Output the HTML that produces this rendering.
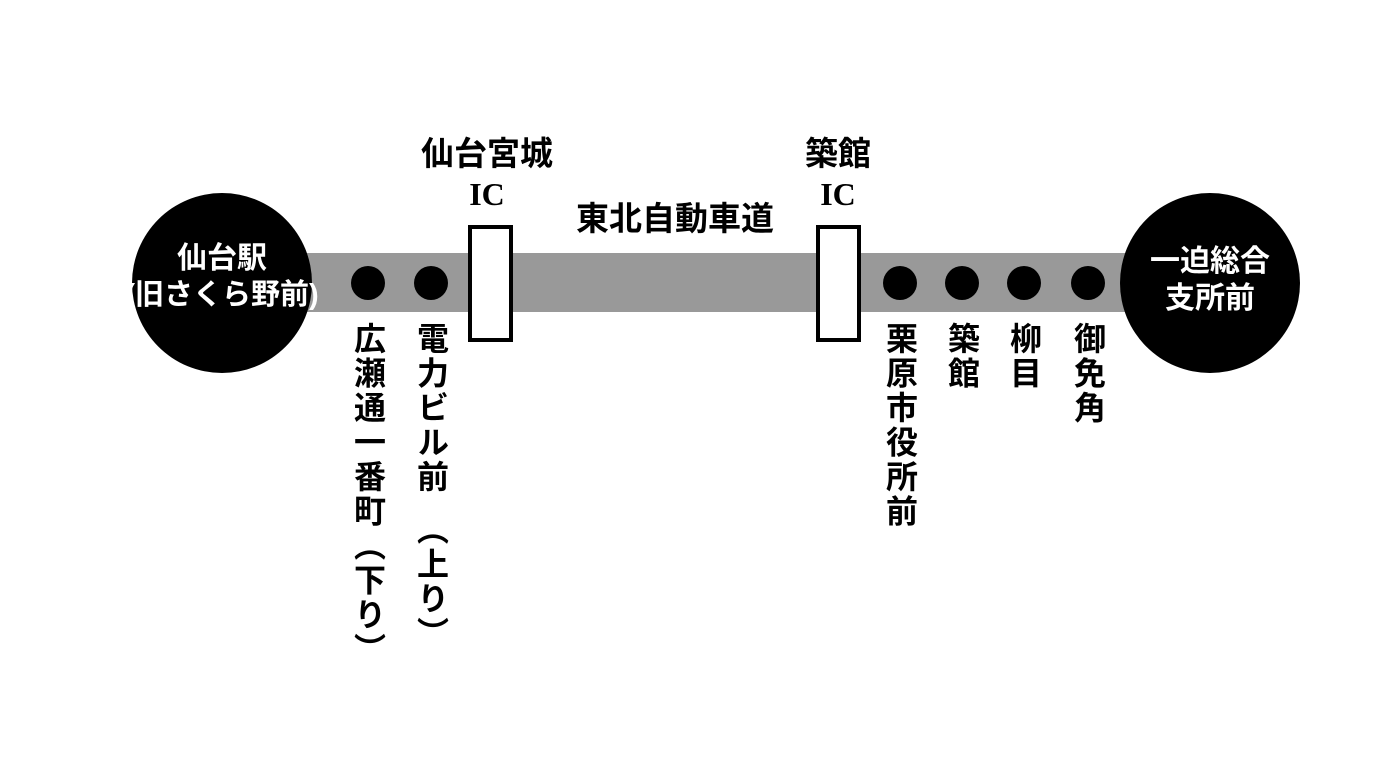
<!DOCTYPE html>
<html><head><meta charset="utf-8"><style>
body{margin:0;width:1376px;height:768px;background:#fff;position:relative;overflow:hidden;font-family:"Liberation Sans","Noto Sans CJK JP",sans-serif;font-weight:bold;color:#000}
.a{position:absolute}
.bar{left:300px;top:253px;width:840px;height:59px;background:#999}
.big{width:180px;height:180px;border-radius:50%;background:#000;color:#fff;top:193px;display:flex;flex-direction:column;align-items:center;justify-content:center;font-size:30px;line-height:37px;text-align:center;overflow:visible;box-sizing:border-box}
.dot{width:34px;height:34px;border-radius:50%;background:#000;top:266px}
.ic{width:37px;height:109px;border:4px solid #000;background:#fff;top:225px}
.v{writing-mode:vertical-rl;font-size:32px;line-height:34px;letter-spacing:2.5px;top:322px;width:34px;text-align:left}
.t{font-size:33px;line-height:40px;text-align:center;width:220px}
.ict{font-family:"Liberation Serif","DejaVu Serif",serif;font-size:32px}
</style></head><body>
<div class="a bar"></div>
<div class="a big" style="left:132px;padding-bottom:12px"><span>仙台駅</span><span style="white-space:nowrap;font-size:29px">(旧さくら野前)</span></div>
<div class="a big" style="left:1120px;padding-bottom:6px">一迫総合<br>支所前</div>
<div class="a dot" style="left:351px"></div>
<div class="a dot" style="left:414px"></div>
<div class="a dot" style="left:883px"></div>
<div class="a dot" style="left:945px"></div>
<div class="a dot" style="left:1007px"></div>
<div class="a dot" style="left:1071px"></div>
<div class="a ic" style="left:468px"></div>
<div class="a ic" style="left:816px"></div>
<div class="a t" style="left:377px;top:134px">仙台宮城<br><span class="ict">IC</span></div>
<div class="a t" style="left:728px;top:134px">築館<br><span class="ict">IC</span></div>
<div class="a t" style="left:565px;top:199px">東北自動車道</div>
<div class="a v" style="left:351px">広瀬通一番町（下り）</div>
<div class="a v" style="left:414px">電力ビル前　（上り）</div>
<div class="a v" style="left:883px">栗原市役所前</div>
<div class="a v" style="left:945px">築館</div>
<div class="a v" style="left:1007px">柳目</div>
<div class="a v" style="left:1071px">御免角</div>
</body></html>
